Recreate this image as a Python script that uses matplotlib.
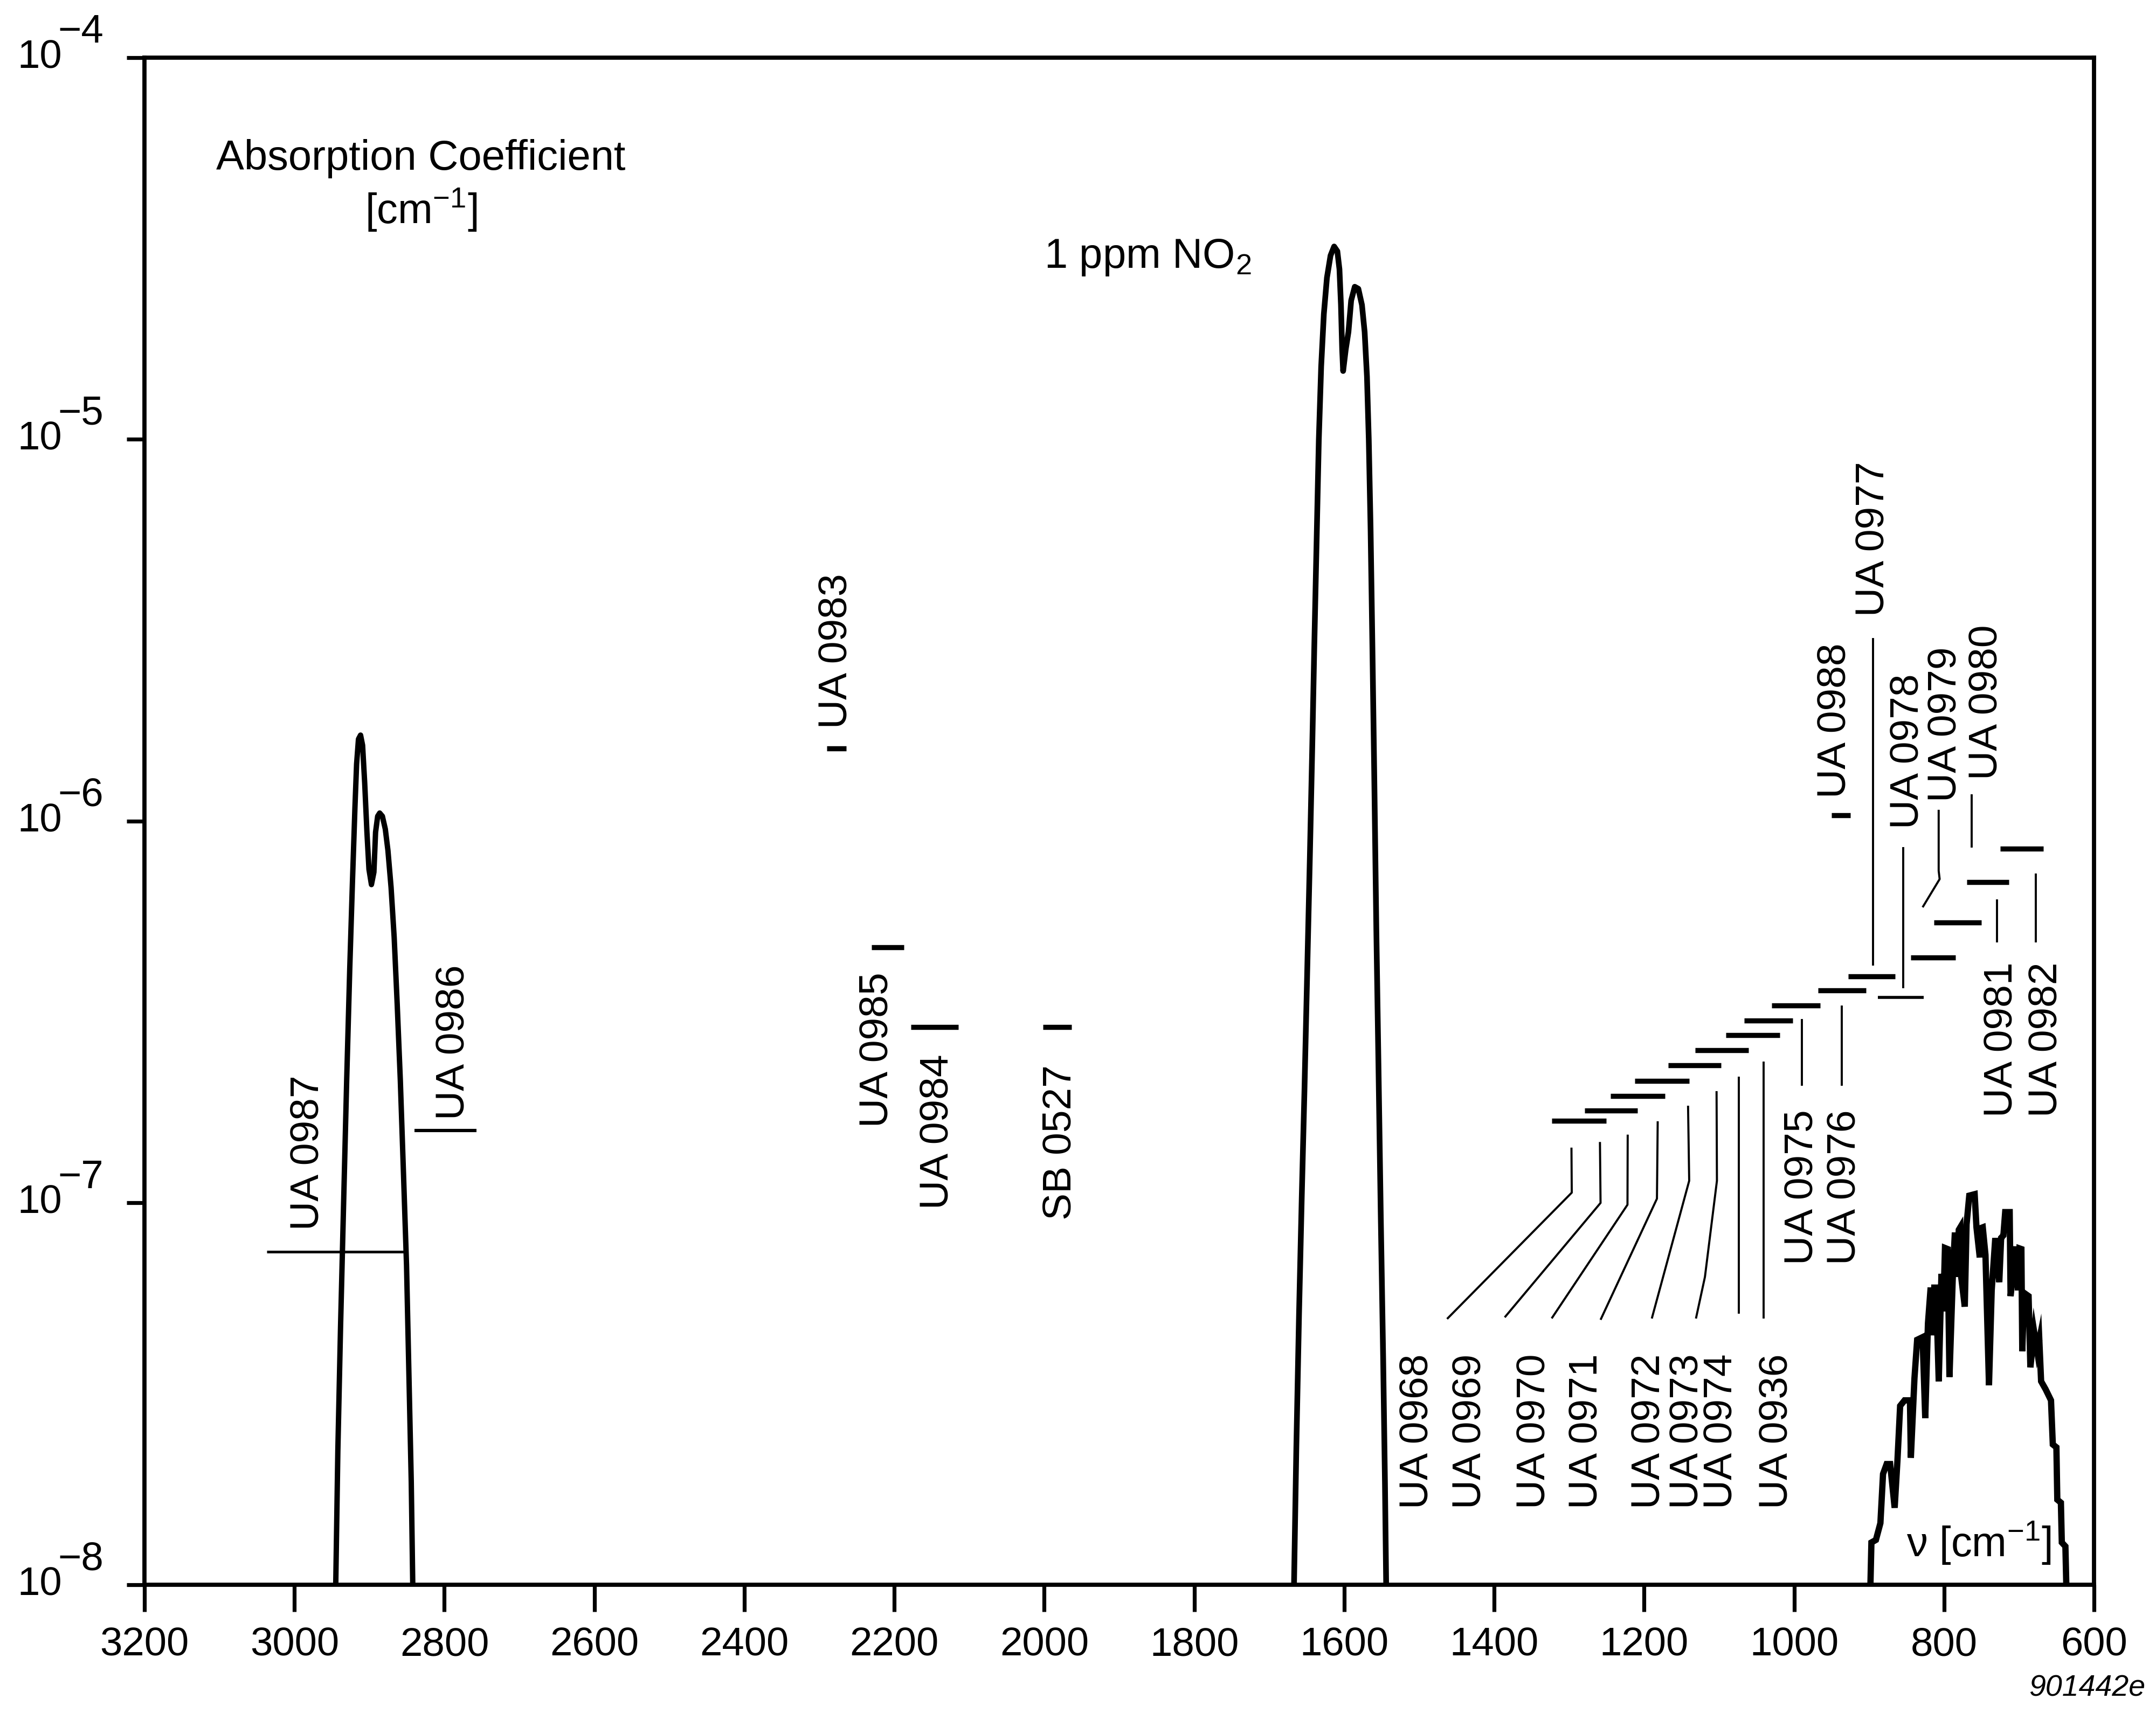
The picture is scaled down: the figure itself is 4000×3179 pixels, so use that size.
import matplotlib.pyplot as plt
from matplotlib.ticker import NullLocator

plt.rcParams['font.family'] = ['Liberation Sans', 'DejaVu Sans']
plt.rcParams['mathtext.fontset'] = 'custom'
plt.rcParams['mathtext.rm'] = 'Liberation Sans'
plt.rcParams['mathtext.it'] = 'Liberation Sans:italic'

# C-H band near 2900 cm-1
ch_nu = [2944.9, 2942.1, 2938.5, 2934.4, 2930.3, 2926.2, 2922.6, 2919.3, 2917.1, 2914.6,
         2911.8, 2909.1, 2906.3, 2903.3, 2900.6, 2897.3, 2894.0, 2891.8, 2889.0, 2886.3,
         2882.7, 2878.8, 2875.3, 2871.1, 2867.0, 2862.9, 2858.8, 2854.6, 2850.5, 2846.9,
         2844.2, 2842.2]
ch_k = [1e-8, 2.24e-8, 4.73e-8, 9.98e-8, 2.10e-7, 4.12e-7, 6.95e-7, 1.086e-6, 1.41e-6, 1.64e-6,
        1.68e-6, 1.58e-6, 1.26e-6, 9.35e-7, 7.48e-7, 6.82e-7, 7.35e-7, 9.35e-7, 1.03e-6, 1.05e-6,
        1.03e-6, 9.53e-7, 8.38e-7, 6.70e-7, 4.97e-7, 3.30e-7, 2.10e-7, 1.20e-7, 6.87e-8, 3.26e-8,
        1.86e-8, 1e-8]

# NO2 band, 1 ppm
no2_nu = [1667.0, 1663.9, 1660.3, 1656.7, 1653.1, 1649.5, 1645.9, 1642.8, 1639.9, 1637.0,
          1633.9, 1630.8, 1627.2, 1623.1, 1618.3, 1613.5, 1609.2, 1606.4, 1604.4, 1602.8,
          1601.5, 1598.0, 1594.4, 1590.8, 1586.0, 1581.2, 1576.4, 1572.8, 1569.7, 1567.3,
          1564.9, 1562.5, 1560.1, 1557.2, 1554.4, 1551.3, 1548.1, 1545.7, 1544.1]
no2_k = [1e-8, 2.28e-8, 5.11e-8, 1.03e-7, 1.96e-7, 3.95e-7, 7.98e-7, 1.52e-6, 2.90e-6, 5.26e-6,
         1.0e-5, 1.55e-5, 2.13e-5, 2.65e-5, 3.03e-5, 3.20e-5, 3.11e-5, 2.79e-5, 2.25e-5, 1.72e-5,
         1.51e-5, 1.72e-5, 1.91e-5, 2.31e-5, 2.51e-5, 2.48e-5, 2.25e-5, 1.91e-5, 1.46e-5, 1.0e-5,
         5.85e-6, 2.90e-6, 1.37e-6, 5.18e-7, 2.31e-7, 9.25e-8, 3.90e-8, 1.84e-8, 1e-8]

# band between 900 and 640 cm-1
low_nu = [898.3, 897, 891, 885, 881.5, 876.7, 872, 866, 862.3, 858.7, 852.8, 845.6, 844.4, 839.6,
          836, 828.8, 825.2, 821.6, 818, 815.6, 813.2, 810.8, 807.2, 803.6, 801.2, 798.9, 795.3,
          792.9, 788.1, 785.7, 782.5, 780.5, 778.5, 777.3, 772.5, 770.1, 766.5, 759.3, 756.9,
          752.5, 750.5, 748.5, 744.9, 740.2, 736.6, 731.8, 726.5, 724.0, 721.0, 718.6, 712.6,
          711.4, 704.2, 701.5, 699.5, 697.0, 695.8, 693.4, 687.4, 685.0, 680.0, 676.0, 673.1,
          670.7, 664.7, 657.5, 655.1, 650.3, 649.1, 644.3, 643.1, 638.3, 637.1]
low_k = [1e-8, 1.29e-8, 1.31e-8, 1.45e-8, 1.95e-8, 2.07e-8, 2.07e-8, 1.59e-8, 2.11e-8, 2.94e-8,
         3.04e-8, 3.04e-8, 2.15e-8, 3.47e-8, 4.38e-8, 4.45e-8, 2.73e-8, 4.83e-8, 6.0e-8, 4.5e-8,
         6.0e-8, 6.0e-8, 3.41e-8, 6.52e-8, 5.2e-8, 7.62e-8, 7.57e-8, 3.5e-8, 6.73e-8, 8.36e-8,
         6.4e-8, 8.5e-8, 8.63e-8, 6.41e-8, 5.35e-8, 8.79e-8, 1.045e-7, 1.054e-7, 8.63e-8, 7.2e-8,
         8.6e-8, 8.63e-8, 7.31e-8, 3.33e-8, 5.9e-8, 8.09e-8, 6.2e-8, 8.1e-8, 8.22e-8, 9.46e-8,
         9.46e-8, 5.7e-8, 7.69e-8, 5.9e-8, 7.6e-8, 7.57e-8, 4.09e-8, 5.81e-8, 5.7e-8, 3.71e-8,
         4.6e-8, 4.1e-8, 4.38e-8, 3.41e-8, 3.25e-8, 3.04e-8, 2.33e-8, 2.29e-8, 1.67e-8, 1.64e-8,
         1.29e-8, 1.26e-8, 1e-8]

# filters: name, band edges [cm-1], level [cm-1]
filt_name = ['UA 0987', 'UA 0986', 'UA 0983', 'UA 0985', 'UA 0984', 'SB 0527',
             'UA 0968', 'UA 0969', 'UA 0970', 'UA 0971', 'UA 0972', 'UA 0973', 'UA 0974', 'UA 0936',
             'UA 0975', 'UA 0976', 'UA 0977', 'UA 0978', 'UA 0979', 'UA 0980', 'UA 0981', 'UA 0982',
             'UA 0988']
filt_hi = [3037, 2839.6, 2290, 2230, 2178, 2001.7,
           1323.1, 1279.7, 1244.7, 1212.5, 1168.3, 1132.0, 1091.2, 1066.4,
           1030.1, 968.2, 928.2, 888.6, 844.3, 813.5, 769.5, 725.3, 950.4]
filt_lo = [2852, 2757, 2264.4, 2187.3, 2114.6, 1964,
           1250.9, 1208.8, 1172.5, 1140.3, 1097.4, 1061.1, 1019.0, 1002.1,
           965.3, 904.3, 865.1, 827.1, 784.7, 750.3, 713.8, 667.8, 924.7]
filt_k = [7.46e-8, 1.55e-7, 1.55e-6, 4.67e-7, 2.89e-7, 2.89e-7,
          1.642e-7, 1.748e-7, 1.907e-7, 2.09e-7, 2.293e-7, 2.509e-7, 2.753e-7, 3.003e-7,
          3.285e-7, 3.60e-7, 3.922e-7, 3.457e-7, 4.39e-7, 5.42e-7, 6.92e-7, 8.46e-7, 1.035e-6]

# label anchors (centre wavenumber, lower end of the rotated text)
lab_nu = [2982, 2788, 2278, 2223, 2143, 1979,
          1502.7, 1431.5, 1346.1, 1276.7, 1193.2, 1141.8, 1096.7, 1023,
          990, 932, 894, 849, 798, 744, 724, 664, 946]
lab_k = [8.49e-8, 1.65e-7, 1.75e-6, 1.58e-7, 9.64e-8, 9.03e-8,
         1.58e-8, 1.58e-8, 1.58e-8, 1.58e-8, 1.58e-8, 1.58e-8, 1.58e-8, 1.58e-8,
         6.89e-8, 6.89e-8, 3.44e-6, 9.55e-7, 1.125e-6, 1.285e-6, 1.68e-7, 1.68e-7, 1.15e-6]

# leader lines from labels to filter bars
leaders = [
    ([1297, 1296.6, 1461.9], [1.387e-7, 1.064e-7, 4.99e-8]),
    ([1259, 1258.2, 1385.1], [1.435e-7, 1.0e-7, 5.04e-8]),
    ([1222, 1222.3, 1322.6], [1.50e-7, 9.89e-8, 5.01e-8]),
    ([1182, 1183, 1257.6], [1.626e-7, 1.026e-7, 4.97e-8]),
    ([1141.5, 1140, 1189.5], [1.786e-7, 1.143e-7, 5.01e-8]),
    ([1103.5, 1103, 1119, 1130.7], [1.95e-7, 1.143e-7, 6.4e-8, 5.01e-8]),
    ([1073.6, 1073.6], [2.13e-7, 5.16e-8]),
    ([1041, 1041], [2.33e-7, 5.01e-8]),
    ([990, 990], [3.01e-7, 2.04e-7]),
    ([936.4, 936.4], [3.27e-7, 2.04e-7]),
    ([895, 895], [3.0e-6, 4.21e-7]),
    ([854.3, 854.3], [8.5e-7, 3.67e-7]),
    ([807.3, 807.3, 806, 828], [1.064e-6, 7.41e-7, 7.05e-7, 5.98e-7]),
    ([763, 763], [1.17e-6, 8.59e-7]),
    ([729.8, 729.8], [6.19e-7, 4.84e-7]),
    ([677.5, 677.5], [7.24e-7, 4.84e-7]),
]

fig = plt.figure(figsize=(10, 7.9475), dpi=400)
ax = fig.add_axes([0.067, 0.0749, 0.9043, 0.8915])

ax.plot(ch_nu, ch_k, color='black', lw=1.8, solid_joinstyle='round')
ax.plot(no2_nu, no2_k, color='black', lw=1.9, solid_joinstyle='round')
ax.plot(low_nu, low_k, color='black', lw=2.1, solid_joinstyle='miter')

thin = {'UA 0987': 0.9, 'UA 0986': 1.1, 'UA 0978': 1.0}
for name, hi, lo, k in zip(filt_name, filt_hi, filt_lo, filt_k):
    ax.plot([hi, lo], [k, k], color='black', lw=thin.get(name, 1.7), solid_capstyle='butt')

for xs, ys in leaders:
    ax.plot(xs, ys, color='black', lw=0.7)

for name, x, y in zip(filt_name, lab_nu, lab_k):
    ax.text(x, y, name, rotation=90, ha='center', va='bottom', fontsize=13.5)

ax.set_xlim(3200, 600)
ax.set_yscale('log')
ax.set_ylim(1e-8, 1e-4)
ax.set_xticks(list(range(3200, 599, -200)))
ax.yaxis.set_minor_locator(NullLocator())
ax.tick_params(axis='x', direction='out', length=9, width=1.3, pad=5, labelsize=13.4)
ax.tick_params(axis='y', which='major', direction='out', length=6, width=1.3, labelleft=False)
for s in ax.spines.values():
    s.set_linewidth(1.4)

# y tick labels written as 10 with a full size exponent
decades = [1e-8, 1e-7, 1e-6, 1e-5, 1e-4]
exps = ['\u22128', '\u22127', '\u22126', '\u22125', '\u22124']
for v, e in zip(decades, exps):
    ax.annotate('10', xy=(0, v), xycoords=('axes fraction', 'data'), xytext=(-27.5, -3.5),
                textcoords='offset points', ha='right', va='baseline', fontsize=13.4)
    ax.annotate(e, xy=(0, v), xycoords=('axes fraction', 'data'), xytext=(-29, 5),
                textcoords='offset points', ha='left', va='baseline', fontsize=13.4)

ax.text(0.1418, 0.9264, 'Absorption Coefficient', transform=ax.transAxes,
        ha='center', va='baseline', fontsize=14)
ax.text(0.1418, 0.8913, '[cm$^{\u22121}$]', transform=ax.transAxes,
        ha='center', va='baseline', fontsize=14)
ax.text(0.4614, 0.8625, '1 ppm NO$_2$', transform=ax.transAxes,
        ha='left', va='baseline', fontsize=14)
ax.text(0.978, 0.012, '\u03bd [cm$^{\u22121}$]', transform=ax.transAxes,
        ha='right', va='bottom', fontsize=14)
fig.text(0.995, 0.006, '901442e', ha='right', va='bottom', style='italic', fontsize=10)

fig.savefig('out.png', dpi=400, facecolor='white')
